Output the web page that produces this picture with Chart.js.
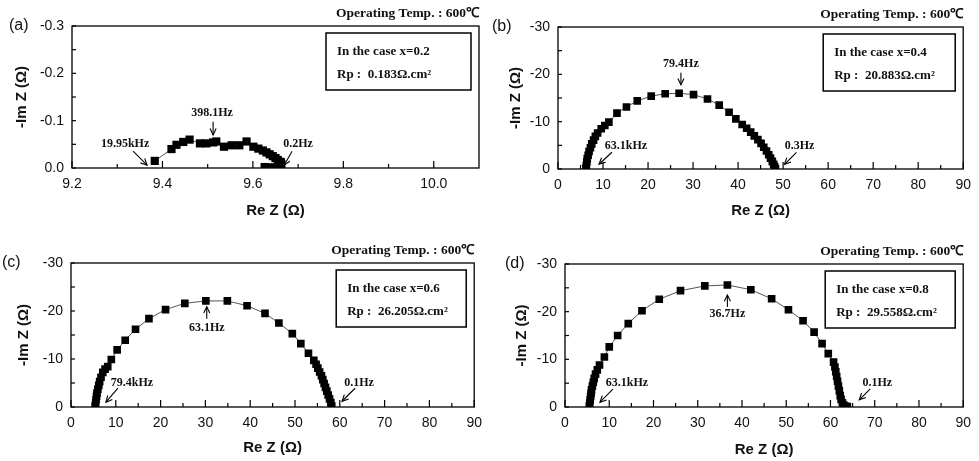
<!DOCTYPE html>
<html>
<head>
<meta charset="utf-8">
<script src="https://cdn.jsdelivr.net/npm/chart.js@4.4.1/dist/chart.umd.min.js"></script>
<style>
  body { margin: 0; background: #fff; }
  #wrap { position: relative; width: 979px; height: 461px; }
  canvas { position: absolute; }
</style>
</head>
<body>
<div id="wrap">
  <canvas id="chartA" width="490" height="230" style="left:0;top:0"></canvas>
  <canvas id="chartB" width="489" height="230" style="left:490px;top:0"></canvas>
  <canvas id="chartC" width="490" height="231" style="left:0;top:230px"></canvas>
  <canvas id="chartD" width="489" height="231" style="left:490px;top:230px"></canvas>
</div>
<script>
// Re Z / Im Z (Im stored as negative, axis reversed)
const reA = [9.383, 9.420, 9.431, 9.446, 9.460, 9.483, 9.497, 9.512, 9.519, 9.536, 9.553, 9.570, 9.586, 9.601, 9.612, 9.622, 9.630, 9.637, 9.644, 9.650, 9.655, 9.660, 9.663, 9.662, 9.655, 9.645, 9.635, 9.626];
const imA = [-0.015, -0.040, -0.049, -0.055, -0.060, -0.052, -0.052, -0.054, -0.056, -0.045, -0.048, -0.048, -0.056, -0.045, -0.041, -0.037, -0.033, -0.029, -0.025, -0.021, -0.017, -0.013, -0.008, -0.004, -0.002, -0.001, -0.001, -0.002];

const reB = [6.2, 6.3, 6.4, 6.5, 6.7, 6.9, 7.2, 7.5, 7.9, 8.3, 8.8, 9.6, 10.4, 11.3, 13.1, 15.2, 17.6, 20.7, 23.8, 26.9, 30.1, 33.2, 35.8, 38.0, 39.5, 40.9, 41.9, 42.8, 43.6, 44.4, 45.1, 45.7, 46.3, 46.8, 47.2, 47.6, 47.9, 48.1, 48.3];
const imB = [-0.2, -0.8, -1.5, -2.2, -2.9, -3.7, -4.5, -5.3, -6.1, -6.9, -7.6, -8.5, -9.2, -9.9, -11.8, -13.1, -14.4, -15.4, -15.9, -16.0, -15.7, -14.8, -13.5, -12.0, -10.6, -9.4, -8.6, -7.8, -7.0, -6.2, -5.4, -4.6, -3.8, -3.0, -2.3, -1.6, -1.0, -0.5, -0.1];

const reC = [5.4, 5.5, 5.6, 5.7, 5.8, 6.0, 6.2, 6.4, 6.7, 7.1, 7.6, 8.2, 9.0, 10.3, 12.1, 14.4, 17.4, 21.1, 25.4, 30.1, 34.9, 39.3, 43.3, 46.4, 49.4, 51.3, 53.0, 54.2, 54.7, 55.1, 55.5, 55.9, 56.2, 56.5, 56.8, 57.1, 57.4, 57.7, 58.0, 58.2];
const imC = [-0.2, -0.8, -1.5, -2.2, -2.9, -3.7, -4.5, -5.3, -6.2, -7.2, -7.9, -8.4, -9.9, -11.9, -13.9, -16.2, -18.4, -20.3, -21.6, -22.1, -22.1, -21.1, -19.5, -17.5, -15.3, -13.2, -11.2, -9.7, -8.9, -8.1, -7.3, -6.5, -5.7, -4.9, -4.1, -3.3, -2.5, -1.7, -0.9, -0.2];

const reD = [5.5, 5.6, 5.7, 5.8, 5.9, 6.0, 6.2, 6.4, 6.6, 6.9, 7.3, 7.8, 8.9, 10.0, 11.9, 14.3, 17.4, 21.3, 26.1, 31.6, 36.7, 42.0, 46.7, 50.5, 53.8, 56.3, 58.1, 59.5, 60.7, 61.0, 61.2, 61.4, 61.6, 61.8, 62.0, 62.2, 62.4, 62.7, 63.0, 63.4, 63.8];
const imD = [-0.2, -0.8, -1.5, -2.2, -2.9, -3.6, -4.4, -5.2, -6.0, -6.9, -7.8, -8.8, -10.5, -12.6, -15.0, -17.5, -20.2, -22.6, -24.4, -25.4, -25.6, -24.6, -22.7, -20.4, -18.1, -15.7, -13.3, -11.2, -9.4, -8.4, -7.4, -6.4, -5.4, -4.4, -3.4, -2.4, -1.6, -0.9, -0.4, -0.15, -0.1];

const cases = ['In the case x=0.2', 'In the case x=0.4', 'In the case x=0.6', 'In the case x=0.8'];
const rpTexts = ['Rp :  0.183Ω.cm²', 'Rp :  20.883Ω.cm²', 'Rp :  26.205Ω.cm²', 'Rp :  29.558Ω.cm²'];
const tempText = 'Operating Temp. : 600℃';

const serifBold = 'bold 12px "Liberation Serif", "Times New Roman", serif';
const sans = '"Liberation Sans", Arial, sans-serif';

// frame, inward ticks, panel tag, info box and frequency arrows
const decor = {
    id: 'decor',
    afterDatasetsDraw(chart, args, o) {
        const ctx = chart.ctx, a = chart.chartArea;
        const xs = chart.scales.x, ys = chart.scales.y;
        ctx.save();
        ctx.strokeStyle = '#000';
        ctx.lineWidth = 1.3;
        ctx.strokeRect(a.left, a.top, a.right - a.left, a.bottom - a.top);

        // ticks (major + minor halfway)
        ctx.lineWidth = 1.2;
        const xt = xs.ticks.map(t => t.value);
        xt.forEach((v, i) => {
            const p = xs.getPixelForValue(v);
            ctx.beginPath(); ctx.moveTo(p, a.bottom); ctx.lineTo(p, a.bottom - 7); ctx.stroke();
            if (i < xt.length - 1) {
                const m = xs.getPixelForValue((v + xt[i + 1]) / 2);
                ctx.beginPath(); ctx.moveTo(m, a.bottom); ctx.lineTo(m, a.bottom - 4); ctx.stroke();
            }
        });
        const yt = ys.ticks.map(t => t.value);
        yt.forEach((v, i) => {
            const p = ys.getPixelForValue(v);
            ctx.beginPath(); ctx.moveTo(a.left, p); ctx.lineTo(a.left + 4, p); ctx.stroke();
            if (i < yt.length - 1) {
                const m = ys.getPixelForValue((v + yt[i + 1]) / 2);
                ctx.beginPath(); ctx.moveTo(a.left, m); ctx.lineTo(a.left + 4, m); ctx.stroke();
            }
        });

        // panel tag
        ctx.fillStyle = '#111';
        ctx.font = '16px ' + sans;
        ctx.textAlign = 'left';
        ctx.textBaseline = 'middle';
        ctx.fillText(o.tag, o.tagX, a.top);

        // operating temperature
        ctx.font = 'bold 13.5px "Liberation Serif", serif';
        ctx.textAlign = 'right';
        ctx.fillText(tempText, a.right, a.top - 12);

        // info box
        const bw = o.boxW, bh = 57;
        const bx = a.right - 8 - bw, by = a.top + 7;
        ctx.lineWidth = 1.5;
        ctx.strokeRect(bx, by, bw, bh);
        ctx.font = 'bold 13px "Liberation Serif", serif';
        ctx.textAlign = 'left';
        ctx.fillText(o.lines[0], bx + 11, by + 19);
        ctx.fillText(o.lines[1], bx + 11, by + 42);

        // frequency arrows
        ctx.lineWidth = 1.1;
        ctx.font = serifBold;
        ctx.textAlign = 'center';
        o.notes.forEach(n => {
            const px = xs.getPixelForValue(n.x), py = ys.getPixelForValue(n.y);
            const sx = px + n.dx, sy = py + n.dy;
            ctx.beginPath(); ctx.moveTo(sx, sy); ctx.lineTo(px, py); ctx.stroke();
            const ang = Math.atan2(py - sy, px - sx);
            ctx.beginPath();
            ctx.moveTo(px - 7 * Math.cos(ang - 0.45), py - 7 * Math.sin(ang - 0.45));
            ctx.lineTo(px, py);
            ctx.lineTo(px - 7 * Math.cos(ang + 0.45), py - 7 * Math.sin(ang + 0.45));
            ctx.stroke();
            ctx.fillText(n.text, px + n.tx, py + n.ty);
        });
        ctx.restore();
    }
};

function makeChart(id, re, im, p) {
    const pts = re.map((v, i) => ({ x: v, y: im[i] }));
    new Chart(document.getElementById(id), {
        type: 'scatter',
        data: {
            datasets: [{
                data: pts,
                showLine: true,
                borderColor: '#555',
                borderWidth: 1,
                pointStyle: 'rect',
                pointRadius: p.r,
                pointBackgroundColor: '#000',
                pointBorderWidth: 0
            }]
        },
        options: {
            responsive: false,
            animation: false,
            layout: { padding: { top: p.area.top, right: p.area.right, bottom: 0, left: 0 } },
            plugins: {
                legend: { display: false },
                tooltip: { enabled: false },
                decor: p.decor
            },
            scales: {
                x: {
                    type: 'linear',
                    min: p.xMin, max: p.xMax,
                    grid: { display: false, drawTicks: false },
                    border: { display: false },
                    ticks: {
                        stepSize: p.xStep, includeBounds: false, padding: 8,
                        color: '#111', font: { family: sans, size: 14 },
                        callback: v => p.xFmt(v)
                    },
                    title: {
                        display: true, text: 'Re Z (Ω)', color: '#111',
                        font: { family: sans, size: 15, weight: 'bold' },
                        padding: { top: 0, bottom: p.xTitlePad }
                    },
                    afterFit: s => { s.height = p.area.xh; }
                },
                y: {
                    type: 'linear',
                    reverse: true,
                    min: p.yMin, max: 0,
                    grid: { display: false, drawTicks: false },
                    border: { display: false },
                    ticks: {
                        stepSize: p.yStep, padding: 8,
                        color: '#111', font: { family: sans, size: 14 },
                        callback: v => p.yFmt(v)
                    },
                    title: {
                        display: true, text: '-Im Z (Ω)', color: '#111',
                        font: { family: sans, size: 15, weight: 'bold' },
                        padding: { top: p.yTitlePad, bottom: 0 }
                    },
                    afterFit: s => { s.width = p.area.yw; }
                }
            }
        },
        plugins: [decor]
    });
}

const fmt1 = v => Math.abs(v) < 1e-9 ? '0.0' : v.toFixed(1);
const fmt0 = v => Math.abs(v) < 1e-9 ? '0' : String(Math.round(v));

makeChart('chartA', reA, imA, {
    r: 5.8, xMin: 9.2, xMax: 10.1, xStep: 0.2, yMin: -0.3, yStep: 0.1,
    xFmt: fmt1, yFmt: fmt1, xTitlePad: 10, yTitlePad: 13,
    area: { top: 26, right: 11, xh: 62, yw: 72 },
    decor: {
        tag: '(a)', tagX: 9, boxW: 145, lines: [cases[0], rpTexts[0]],
        notes: [
            { text: '19.95kHz', x: 9.366, y: -0.006, dx: -14, dy: -14, tx: -22, ty: -21 },
            { text: '398.1Hz', x: 9.512, y: -0.070, dx: 0, dy: -13, tx: -1, ty: -22 },
            { text: '0.2Hz', x: 9.669, y: -0.006, dx: 8, dy: -14, tx: 14, ty: -21 }
        ]
    }
});

makeChart('chartB', reB, imB, {
    r: 5.4, xMin: 0, xMax: 90, xStep: 10, yMin: -30, yStep: 10,
    xFmt: fmt0, yFmt: fmt0, xTitlePad: 10, yTitlePad: 17,
    area: { top: 27, right: 9, xh: 61, yw: 68 },
    decor: {
        tag: '(b)', tagX: 2, boxW: 132, lines: [cases[1], rpTexts[1]],
        notes: [
            { text: '79.4Hz', x: 27.3, y: -17.8, dx: 0, dy: -12, tx: 0, ty: -21 },
            { text: '63.1kHz', x: 9.1, y: -1.0, dx: 13, dy: -12, tx: 27, ty: -18 },
            { text: '0.3Hz', x: 50.3, y: -1.0, dx: 12, dy: -12, tx: 15, ty: -18 }
        ]
    }
});

makeChart('chartC', reC, imC, {
    r: 5.4, xMin: 0, xMax: 90, xStep: 10, yMin: -30, yStep: 10,
    xFmt: fmt0, yFmt: fmt0, xTitlePad: 4, yTitlePad: 15,
    area: { top: 33, right: 9, xh: 54, yw: 71 },
    decor: {
        tag: '(c)', tagX: 2, boxW: 130, lines: [cases[2], rpTexts[2]],
        notes: [
            { text: '63.1Hz', x: 30.3, y: -20.9, dx: 0, dy: 12, tx: 0, ty: 21 },
            { text: '79.4kHz', x: 7.8, y: -1.0, dx: 12, dy: -14, tx: 26, ty: -19 },
            { text: '0.1Hz', x: 60.5, y: -1.2, dx: 13, dy: -13, tx: 17, ty: -18 }
        ]
    }
});

makeChart('chartD', reD, imD, {
    r: 5.4, xMin: 0, xMax: 90, xStep: 10, yMin: -30, yStep: 10,
    xFmt: fmt0, yFmt: fmt0, xTitlePad: 2, yTitlePad: 23,
    area: { top: 34, right: 11, xh: 54, yw: 75 },
    decor: {
        tag: '(d)', tagX: 15, boxW: 130, lines: [cases[3], rpTexts[3]],
        notes: [
            { text: '36.7Hz', x: 36.7, y: -23.5, dx: 0, dy: 12, tx: 0, ty: 19 },
            { text: '63.1kHz', x: 7.9, y: -1.0, dx: 13, dy: -13, tx: 27, ty: -19 },
            { text: '0.1Hz', x: 66.5, y: -1.5, dx: 11, dy: -11, tx: 18, ty: -17 }
        ]
    }
});
</script>
</body>
</html>
